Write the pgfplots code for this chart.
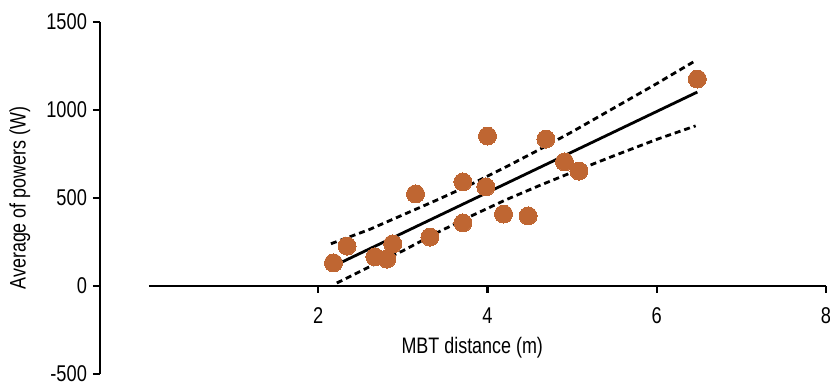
\documentclass[border=0pt]{standalone}
\usepackage{pgfplots}
\pgfplotsset{compat=1.18}
\usepackage{fontspec}
\setmainfont{Liberation Sans}[FakeStretch=0.8]
\definecolor{dotc}{RGB}{191,102,50}
\begin{document}
\begin{tikzpicture}
\begin{axis}[
  name=ax,
  scale only axis,
  width=363pt, height=176pt,
  xmin=-0.579, xmax=8, ymin=-500, ymax=1500,
  clip=false,
  axis y line=left,
  axis x line=middle,
  x axis line style={draw=none},
  y axis line style={line width=1.2pt, -},
  xtick={2,4,6,8}, ytick={-500,0,500,1000,1500},
  xtick align=outside, ytick align=outside,
  major tick length=3.5pt,
  tick style={line width=1.2pt, black},
  xticklabel style={yshift=-4pt},
  yticklabel style={xshift=0.5pt},
  /pgf/number format/assume math mode=true,
  /pgf/number format/1000 sep={},
  tick label style={font=\fontsize{11.4}{13}\selectfont},
]
\draw[line width=1.2pt] (axis cs:0,0) -- (axis cs:8,0);
\addplot[line width=1.4pt, dash pattern=on 3pt off 2pt] coordinates {
 (2.15,240) (2.6,320) (3,404) (3.4,488) (3.8,576) (4.2,672) (4.6,772) (5.0,876) (5.5,1013) (6.0,1150) (6.45,1278)};
\addplot[line width=1.4pt, dash pattern=on 3pt off 2pt] coordinates {
 (2.22,17) (2.6,108) (3,200) (3.4,302) (3.8,396) (4.2,486) (4.6,568) (5.0,646) (5.5,741) (6.0,833) (6.46,910)};
\addplot[line width=1.4pt] coordinates {(2.28,136) (6.48,1102)};
\addplot[only marks, mark=*, mark size=4.5pt, color=dotc, mark options={line width=0pt}] coordinates {
 (2.18,131) (2.34,227) (2.67,165) (2.81,153) (2.88,239) (3.15,523) (3.32,278)
 (3.71,591) (3.71,358) (4.00,852) (3.98,563) (4.19,409) (4.48,398) (4.69,835)
 (4.91,705) (5.08,653) (6.48,1176)};
\node[font=\fontsize{11.2}{13}\selectfont] at (axis cs:3.82,-350) {MBT distance (m)};
\node[rotate=90, font=\fontsize{11.2}{13}\selectfont] at (axis cs:-1.525,500) {Average of powers (W)};
\end{axis}
\pgfresetboundingbox
\path[use as bounding box] ([xshift=-50pt,yshift=-5pt]ax.south west) rectangle ([xshift=2pt,yshift=11pt]ax.north east);
\end{tikzpicture}
\end{document}
